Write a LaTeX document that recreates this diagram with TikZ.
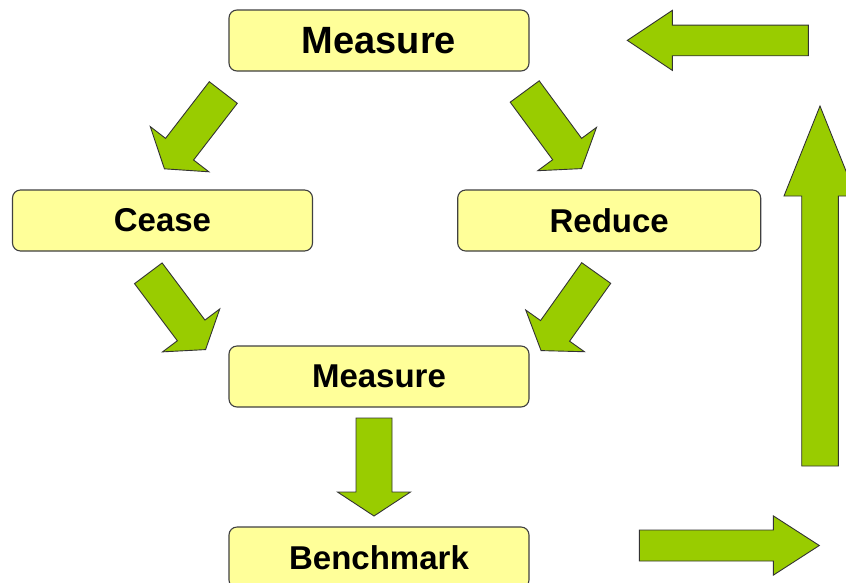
\documentclass[tikz,border=0pt]{standalone}
\usepackage{fontspec}
\setmainfont{Liberation Sans}

\definecolor{boxfill}{HTML}{FFFF99}
\definecolor{boxline}{HTML}{404040}
\definecolor{arrowgreen}{HTML}{99CC00}
\definecolor{arrowline}{HTML}{333333}

% Block arrow: tail centre (#1,#2), rotation #3, total length #4,
% shaft width #5, head width #6, head length #7
\newcommand{\blockarrow}[7]{%
  \begin{scope}[shift={(#1,#2)}, rotate=#3]
    \draw[fatarrow] (0,{-#5/2}) -- ({#4-#7},{-#5/2}) -- ({#4-#7},{-#6/2})
      -- (#4,0) -- ({#4-#7},{#6/2}) -- ({#4-#7},{#5/2}) -- (0,{#5/2}) -- cycle;
  \end{scope}}

\begin{document}
\begin{tikzpicture}[x=1pt, y=-1pt,
  stepbox/.style={draw=boxline, line width=1.1pt, fill=boxfill,
    rounded corners=8pt, minimum width=300pt, minimum height=61pt,
    inner sep=0pt, font=\bfseries\fontsize{33}{36}\selectfont},
  fatarrow/.style={draw=arrowline, line width=0.9pt, fill=arrowgreen,
    line join=miter}]
  \useasboundingbox (0,0) rectangle (846,582);
  \clip (0,0) rectangle (846,582);

  % process steps
  \node[stepbox, font=\bfseries\fontsize{38}{40}\selectfont] (measureTop) at (379,40.5) {Measure};
  \node[stepbox] (cease)   at (162.5,220.5) {Cease};
  \node[stepbox, minimum width=303pt] (reduce) at (609.2,220.5) {Reduce};
  \node[stepbox] (measureMid) at (379,376.5) {Measure};
  \node[stepbox] (bench)   at (379,557.5) {Benchmark};

  % arrows between the steps
  \blockarrow{223.3}{92.5}{-127.65}{96.4}{35.4}{74}{24.8}
  \blockarrow{524.7}{91.5}{-53.6}{95.8}{36}{73}{24.3}
  \blockarrow{148.3}{273.3}{-53.1}{95.4}{34.5}{71.5}{24}
  \blockarrow{596.2}{273}{-125.4}{95.2}{35.6}{72}{24.2}
  \blockarrow{374}{418}{-90}{98}{36}{73}{24}

  % feedback loop on the right
  \blockarrow{639.3}{545.5}{0}{180}{31}{59.3}{46}
  \blockarrow{820}{466}{90}{360}{36.6}{72}{90}
  \blockarrow{808.3}{40.4}{180}{181}{30.7}{60}{45}
\end{tikzpicture}
\end{document}
